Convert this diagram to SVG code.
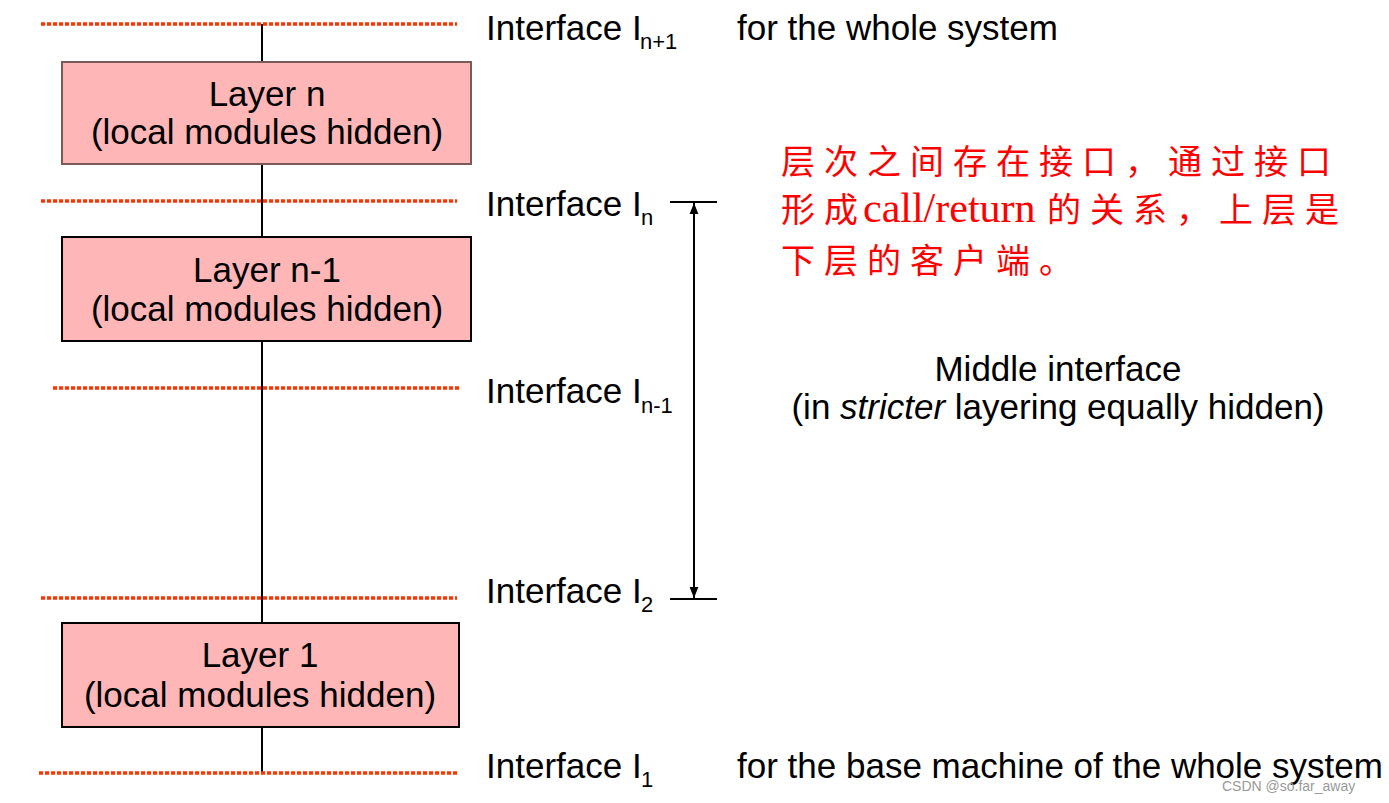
<svg xmlns="http://www.w3.org/2000/svg" width="1389" height="803" viewBox="0 0 1389 803">
<style>
.t{font-family:"Liberation Sans",Arial,sans-serif;font-size:35px;fill:#000}
.sub{font-size:22px}
.box{fill:#ffb6b6;stroke:#000;stroke-width:2}
.dash{stroke:#ff3300;stroke-width:3.5;stroke-dasharray:4 2;fill:none}
.ln{stroke:#000;stroke-width:2;fill:none}
.cn{font-family:"Noto Sans CJK SC","Noto Sans CJK JP",sans-serif;font-size:34px;fill:#ff0000;letter-spacing:9px}
.lat{font-family:"Liberation Serif","Times New Roman",serif;font-size:42px;letter-spacing:0}
</style>
<defs>
<marker id="ah" viewBox="0 0 10 10" refX="10" refY="5" markerWidth="11" markerHeight="11" markerUnits="userSpaceOnUse" orient="auto">
<path d="M0,1 L10,5 L0,9 z" fill="#000"/>
</marker>
</defs>
<rect width="1389" height="803" fill="#fff"/>
<g id="connectors">
<line class="ln" x1="262" y1="24" x2="262" y2="773"/>
<line class="ln" x1="670" y1="202" x2="717" y2="202"/>
<line class="ln" x1="670" y1="599" x2="717" y2="599"/>
<line class="ln" x1="694" y1="400" x2="694" y2="203" marker-end="url(#ah)"/>
<line class="ln" x1="694" y1="400" x2="694" y2="598" marker-end="url(#ah)"/>
</g>
<g id="interfaces">
<line class="dash" x1="41" y1="24" x2="457" y2="24"/>
<line class="dash" x1="41" y1="201" x2="457" y2="201"/>
<line class="dash" x1="53" y1="388" x2="459" y2="388"/>
<line class="dash" x1="41" y1="598" x2="457" y2="598"/>
<line class="dash" x1="39" y1="773" x2="457" y2="773"/>
</g>
<g id="layer-n">
<rect class="box" x="62" y="62" width="409" height="102" style="stroke:#7a5a5a"/>
<text class="t" x="267" y="106" text-anchor="middle">Layer n</text>
<text class="t" x="267" y="144" text-anchor="middle">(local modules hidden)</text>
</g>
<g id="layer-n-1">
<rect class="box" x="62" y="237" width="409" height="104"/>
<text class="t" x="267" y="282" text-anchor="middle">Layer n-1</text>
<text class="t" x="267" y="321" text-anchor="middle">(local modules hidden)</text>
</g>
<g id="layer-1">
<rect class="box" x="62" y="623" width="397" height="104"/>
<text class="t" x="260" y="667" text-anchor="middle">Layer 1</text>
<text class="t" x="260" y="707" text-anchor="middle">(local modules hidden)</text>
</g>
<g id="labels">
<text class="t" x="486" y="40">Interface I<tspan class="sub" x="640" y="49">n+1</tspan></text>
<text class="t" x="737" y="40">for the whole system</text>
<text class="t" x="486" y="216">Interface I<tspan class="sub" x="641" y="225">n</tspan></text>
<text class="t" x="486" y="403">Interface I<tspan class="sub" x="641" y="413">n-1</tspan></text>
<text class="t" x="486" y="603">Interface I<tspan class="sub" x="641" y="612">2</tspan></text>
<text class="t" x="486" y="778">Interface I<tspan class="sub" x="641" y="787">1</tspan></text>
<text class="t" x="737" y="778">for the base machine of the whole system</text>
<text class="t" x="1058" y="381" text-anchor="middle">Middle interface</text>
<text class="t" x="1058" y="419" text-anchor="middle">(in <tspan font-style="italic">stricter</tspan> layering equally hidden)</text>
</g>
<g id="note">
<text class="cn" x="781" y="174">层次之间存在接口，通过接口</text>
<text class="cn" x="781" y="222">形成<tspan class="lat" x="863">call/return</tspan><tspan x="1047">的关系，上层是</tspan></text>
<text class="cn" x="781" y="273">下层的客户端。</text>
</g>
<text x="1222" y="791" font-family="Liberation Sans,Arial,sans-serif" font-size="14" fill="#999">CSDN @so.far_away</text>
</svg>
